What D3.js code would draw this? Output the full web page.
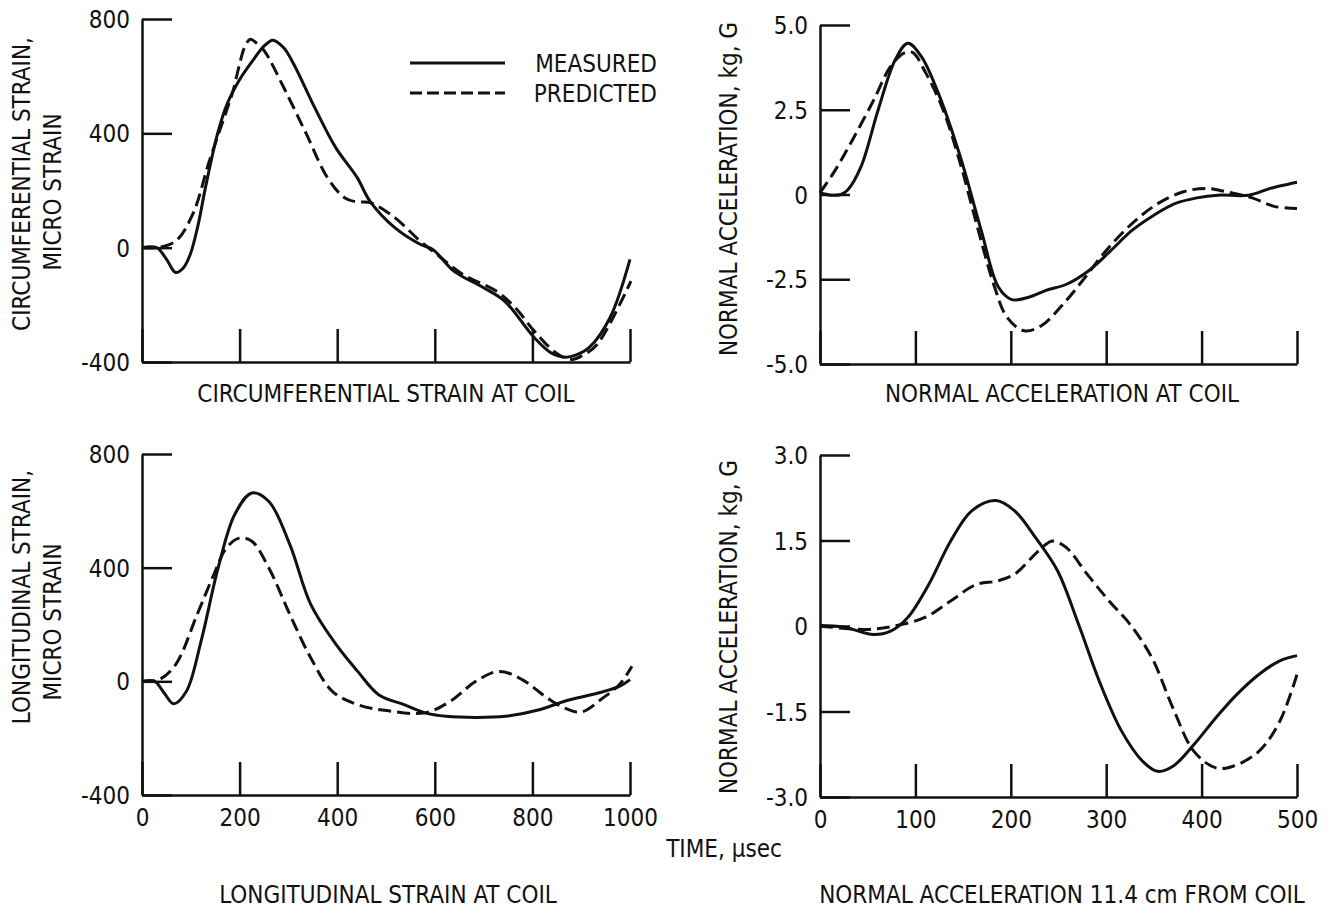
<!DOCTYPE html>
<html>
<head>
<meta charset="utf-8">
<script src="https://cdn.jsdelivr.net/npm/d3@7"></script>
<style>
  body { margin: 0; background: #fff; }
  svg text { font-family: "Liberation Sans Narrow", "DejaVu Sans Condensed", sans-serif; fill: #111; }
</style>
</head>
<body>
<figure id="shotTest" style="margin:0"></figure>
<script>
// ---- data ----
// circumferential strain at coil (micro strain vs usec)
var circMeasT = [0, 30, 50, 69, 85, 99, 115, 130, 155, 175, 199, 225, 250, 268, 290, 311, 354, 397, 441, 467, 518, 570, 596, 639, 700, 743, 804, 840, 868, 890, 916, 959, 1000];
var circMeasV = [0, 0, -40, -87, -70, -23, 80, 210, 400, 505, 585, 650, 705, 726, 700, 642, 490, 350, 245, 163, 70, 12, -6, -82, -140, -187, -315, -370, -383, -375, -350, -245, -41];
var circPredT = [0, 30, 69, 104, 138, 173, 186, 199, 210, 222, 237, 251, 294, 337, 380, 415, 440, 467, 518, 570, 596, 657, 726, 765, 804, 850, 881, 905, 933, 1002];
var circPredV = [0, 0, 23, 117, 303, 478, 545, 635, 700, 729, 712, 688, 548, 397, 245, 175, 160, 158, 105, 23, -12, -93, -152, -210, -292, -370, -391, -375, -338, -117];

// normal acceleration at coil (kg vs usec)
var accMeasT = [0, 11, 22, 29, 43, 61, 79, 92, 106, 124, 147, 169, 187, 201, 219, 237, 259, 282, 305, 327, 350, 372, 395, 417, 449, 472, 500];
var accMeasV = [0.05, -0.02, 0.0, 0.13, 0.82, 2.5, 3.98, 4.46, 4.08, 2.99, 1.12, -1.06, -2.73, -3.1, -3.03, -2.83, -2.64, -2.24, -1.65, -1.06, -0.61, -0.27, -0.1, -0.02, -0.02, 0.18, 0.36];
var accPredT = [0, 16, 34, 56, 74, 88, 97, 111, 129, 147, 165, 183, 196, 214, 232, 255, 278, 300, 327, 354, 381, 404, 426, 453, 476, 500];
var accPredV = [0.05, 0.72, 1.61, 2.77, 3.78, 4.17, 4.19, 3.58, 2.5, 0.92, -0.96, -2.73, -3.62, -4.02, -3.87, -3.23, -2.44, -1.65, -0.86, -0.27, 0.08, 0.18, 0.08, -0.1, -0.35, -0.41];

// longitudinal strain at coil
var longMeasT = [0, 26, 45, 65, 91, 121, 156, 190, 225, 260, 303, 346, 398, 442, 485, 537, 580, 623, 684, 745, 814, 866, 935, 978, 1000];
var longMeasV = [0, 0, -40, -79, -35, 141, 399, 587, 663, 633, 481, 270, 129, 35, -47, -82, -111, -123, -127, -123, -100, -70, -41, -18, 6];
var longPredT = [0, 35, 69, 113, 147, 173, 199, 225, 260, 303, 346, 390, 442, 502, 580, 632, 684, 732, 779, 831, 866, 900, 944, 978, 1004];
var longPredV = [0, 6, 59, 235, 375, 469, 504, 493, 399, 235, 82, -35, -82, -103, -111, -70, 0, 35, 6, -59, -94, -108, -59, -12, 53];

// normal acceleration 11.4 cm from coil
var farMeasT = [0, 25, 56, 74, 92, 114, 137, 159, 184, 204, 226, 249, 271, 294, 316, 338, 354, 370, 392, 415, 437, 460, 482, 500];
var farMeasV = [0.01, -0.02, -0.15, -0.09, 0.15, 0.73, 1.49, 2.02, 2.2, 2.02, 1.55, 0.97, 0.03, -1.02, -1.84, -2.37, -2.55, -2.46, -2.08, -1.61, -1.2, -0.85, -0.61, -0.52];
var farPredT = [0, 47, 78, 110, 137, 164, 186, 204, 222, 235, 244, 258, 280, 303, 325, 348, 370, 392, 415, 433, 460, 482, 500];
var farPredV = [0, -0.06, 0, 0.15, 0.44, 0.73, 0.79, 0.91, 1.2, 1.41, 1.49, 1.38, 0.91, 0.44, 0.03, -0.56, -1.44, -2.2, -2.49, -2.46, -2.2, -1.67, -0.85];

// ticks
var strainTicks = [800, 400, 0, -400];
var strainLabels = ["800", "400", "0", "-400"];
var accTicks = [5, 2.5, 0, -2.5, -5];
var accLabels = ["5.0", "2.5", "0", "-2.5", "-5.0"];
var farTicks = [3, 1.5, 0, -1.5, -3];
var farLabels = ["3.0", "1.5", "0", "-1.5", "-3.0"];
var longTimeTicks = [0, 200, 400, 600, 800, 1000];
var shortTimeTicks = [0, 100, 200, 300, 400, 500];

var legendNames = ["MEASURED", "PREDICTED"];

// ---- drawing ----
var W = 1331, H = 915;
var fs = 24;
var dash = "13,6";

var svg = d3.select("figure#shotTest")
    .append("svg")
    .attr("width", W)
    .attr("height", H);

function zip(t, v) { return t.map(function(d, i) { return [d, v[i]]; }); }

function panel(opt) {
    var x = d3.scaleLinear().domain(opt.xDomain).range([opt.x0, opt.x1]);
    var y = d3.scaleLinear().domain(opt.yDomain).range([opt.y1, opt.y0]);

    // y axis, ticks pointing inward
    var yAxis = svg.append("g")
        .attr("transform", "translate(" + opt.x0 + ",0)")
        .call(d3.axisLeft(y)
            .tickValues(opt.yTicks)
            .tickFormat(function(d, i) { return opt.yLabels[i]; })
            .tickSizeInner(-30)
            .tickSizeOuter(0)
            .tickPadding(12));
    yAxis.selectAll("text").attr("font-size", fs).attr("dy", "0.36em");

    // x axis, ticks pointing up
    var xAxis = svg.append("g")
        .attr("transform", "translate(0," + opt.y1 + ")")
        .call(d3.axisBottom(x)
            .tickValues(opt.xTicks)
            .tickFormat(opt.showX ? d3.format("d") : "")
            .tickSizeInner(-33)
            .tickSizeOuter(0)
            .tickPadding(14));
    xAxis.selectAll("text").attr("font-size", fs);

    svg.selectAll(".domain, .tick line").attr("stroke", "#111").attr("stroke-width", 2.5);

    var line = d3.line()
        .x(function(d) { return x(d[0]); })
        .y(function(d) { return y(d[1]); })
        .curve(d3.curveCatmullRom.alpha(0.5));

    svg.append("path")
        .datum(zip(opt.measT, opt.measV))
        .attr("d", line)
        .attr("fill", "none")
        .attr("stroke", "#111")
        .attr("stroke-width", 3);

    svg.append("path")
        .datum(zip(opt.predT, opt.predV))
        .attr("d", line)
        .attr("fill", "none")
        .attr("stroke", "#111")
        .attr("stroke-width", 3)
        .attr("stroke-dasharray", dash);

    // rotated y label(s)
    opt.yTitle.forEach(function(t) {
        svg.append("text")
            .attr("transform", "translate(" + t.x + "," + t.y + ") rotate(-90)")
            .attr("text-anchor", "middle")
            .attr("font-size", fs)
            .text(t.text);
    });

    svg.append("text")
        .attr("x", opt.titleX)
        .attr("y", opt.titleY)
        .attr("text-anchor", "middle")
        .attr("font-size", fs)
        .text(opt.title);
}

panel({
    x0: 142, x1: 630, y0: 19, y1: 362,
    xDomain: [0, 1000], yDomain: [-400, 800],
    xTicks: longTimeTicks, yTicks: strainTicks, yLabels: strainLabels, showX: false,
    measT: circMeasT, measV: circMeasV, predT: circPredT, predV: circPredV,
    yTitle: [{text: "CIRCUMFERENTIAL STRAIN,", x: 30, y: 184}, {text: "MICRO STRAIN", x: 61, y: 192}],
    title: "CIRCUMFERENTIAL STRAIN AT COIL", titleX: 386, titleY: 402
});

panel({
    x0: 820, x1: 1297, y0: 25, y1: 364,
    xDomain: [0, 500], yDomain: [-5, 5],
    xTicks: shortTimeTicks, yTicks: accTicks, yLabels: accLabels, showX: false,
    measT: accMeasT, measV: accMeasV, predT: accPredT, predV: accPredV,
    yTitle: [{text: "NORMAL ACCELERATION,  kg,  G", x: 737, y: 189}],
    title: "NORMAL ACCELERATION AT COIL", titleX: 1062, titleY: 402
});

panel({
    x0: 142, x1: 630, y0: 454, y1: 795,
    xDomain: [0, 1000], yDomain: [-400, 800],
    xTicks: longTimeTicks, yTicks: strainTicks, yLabels: strainLabels, showX: true,
    measT: longMeasT, measV: longMeasV, predT: longPredT, predV: longPredV,
    yTitle: [{text: "LONGITUDINAL STRAIN,", x: 30, y: 597}, {text: "MICRO STRAIN", x: 61, y: 622}],
    title: "LONGITUDINAL STRAIN AT COIL", titleX: 388, titleY: 903
});

panel({
    x0: 820, x1: 1297, y0: 455, y1: 797,
    xDomain: [0, 500], yDomain: [-3, 3],
    xTicks: shortTimeTicks, yTicks: farTicks, yLabels: farLabels, showX: true,
    measT: farMeasT, measV: farMeasV, predT: farPredT, predV: farPredV,
    yTitle: [{text: "NORMAL ACCELERATION,  kg,  G", x: 737, y: 627}],
    title: "NORMAL ACCELERATION 11.4 cm FROM COIL", titleX: 1062, titleY: 903
});

// shared time label
svg.append("text")
    .attr("x", 724).attr("y", 857)
    .attr("text-anchor", "middle")
    .attr("font-size", fs)
    .text("TIME,  \u00b5sec");

// legend
var legend = svg.append("g");
legendNames.forEach(function(name, i) {
    var ly = 63 + i * 30;
    legend.append("line")
        .attr("x1", 410).attr("x2", 505)
        .attr("y1", ly).attr("y2", ly)
        .attr("stroke", "#111").attr("stroke-width", 3)
        .attr("stroke-dasharray", i === 1 ? "12,5" : null);
    legend.append("text")
        .attr("x", 657).attr("y", ly + 9)
        .attr("text-anchor", "end")
        .attr("font-size", fs)
        .text(name);
});
</script>
</body>
</html>
